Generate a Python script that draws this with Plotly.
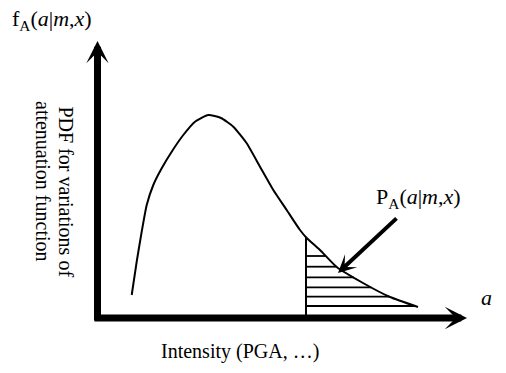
import numpy as np
import plotly.graph_objects as go

# Schematic PDF of ground-motion intensity (arbitrary units, origin at axes corner)
intensity = [34.7, 39.7, 44.7, 49.7, 56.3, 64.7, 74.7, 86.3, 98, 111.3, 124,
             136.3, 149.7, 163, 176.3, 189.7, 203, 209.7, 223, 239.7, 266, 293, 321]
pdf = [23, 56.3, 86.3, 113, 133, 149.7, 166.3, 183, 196.3, 203, 200,
       191.3, 174.7, 151.3, 128, 108, 88, 80, 68, 51, 35, 21, 11]
threshold = 209
hatch_levels = [62, 51.3, 40.7, 30.7, 21.3, 12]

x_arr = np.array(intensity)
y_arr = np.array(pdf)
peak = int(np.argmax(y_arr))
tail_x = x_arr[peak:][::-1]
tail_y = y_arr[peak:][::-1]

thr_top = float(np.interp(threshold, x_arr, y_arr))

hx, hy = [], []
for lv in hatch_levels:
    xe = float(np.interp(lv, tail_y, tail_x))
    hx += [threshold, xe, None]
    hy += [lv, lv, None]

FONT = "Liberation Serif"

fig = go.Figure()
fig.add_trace(go.Scatter(x=intensity, y=pdf, mode="lines",
                         line=dict(color="black", width=2, shape="spline", smoothing=0.5),
                         hoverinfo="skip", showlegend=False))
fig.add_trace(go.Scatter(x=[threshold, threshold], y=[0, thr_top], mode="lines",
                         line=dict(color="black", width=2),
                         hoverinfo="skip", showlegend=False))
fig.add_trace(go.Scatter(x=hx, y=hy, mode="lines",
                         line=dict(color="black", width=1.8),
                         hoverinfo="skip", showlegend=False))

ann = []
# axes arrows
ann.append(dict(x=370, y=0, ax=-4, ay=0, xref="x", yref="y", axref="x", ayref="y",
                text="", showarrow=True, arrowhead=3, arrowwidth=7, arrowsize=0.53,
                arrowcolor="black", standoff=0))
ann.append(dict(x=0.5, y=277, ax=0.5, ay=-4, xref="x", yref="y", axref="x", ayref="y",
                text="", showarrow=True, arrowhead=3, arrowwidth=7, arrowsize=0.53,
                arrowcolor="black", standoff=0))
# pointer arrow
ann.append(dict(x=241, y=45, ax=301, ay=101, xref="x", yref="y", axref="x", ayref="y",
                text="", showarrow=True, arrowhead=3, arrowwidth=4, arrowsize=0.75,
                arrowcolor="black", standoff=0))
# texts
ann.append(dict(x=-45, y=298, xref="x", yref="y", showarrow=False,
                text="f<sub>A</sub>(<i>a</i>|<i>m</i>,<i>x</i>)",
                font=dict(family=FONT, size=22, color="black")))
ann.append(dict(x=321, y=120, xref="x", yref="y", showarrow=False,
                text="P<sub>A</sub>(<i>a</i>|<i>m</i>,<i>x</i>)",
                font=dict(family=FONT, size=22, color="black")))
ann.append(dict(x=389, y=21, xref="x", yref="y", showarrow=False,
                text="<i>a</i>",
                font=dict(family=FONT, size=22, color="black")))
ann.append(dict(x=143, y=-33, xref="x", yref="y", showarrow=False,
                text="Intensity (PGA, …)",
                font=dict(family=FONT, size=20, color="black")))
ann.append(dict(x=-31, y=126.5, xref="x", yref="y", showarrow=False, textangle=90,
                text="PDF for variations of",
                font=dict(family=FONT, size=20, color="black")))
ann.append(dict(x=-54, y=137, xref="x", yref="y", showarrow=False, textangle=90,
                text="attenuation function",
                font=dict(family=FONT, size=20, color="black")))

fig.update_layout(
    width=506, height=373,
    margin=dict(l=0, r=0, t=0, b=0),
    paper_bgcolor="white", plot_bgcolor="white",
    xaxis=dict(range=[-97, 409], visible=False, fixedrange=True),
    yaxis=dict(range=[-55, 318], visible=False, fixedrange=True),
    annotations=ann,
    showlegend=False,
)
fig.write_html("out.html")
